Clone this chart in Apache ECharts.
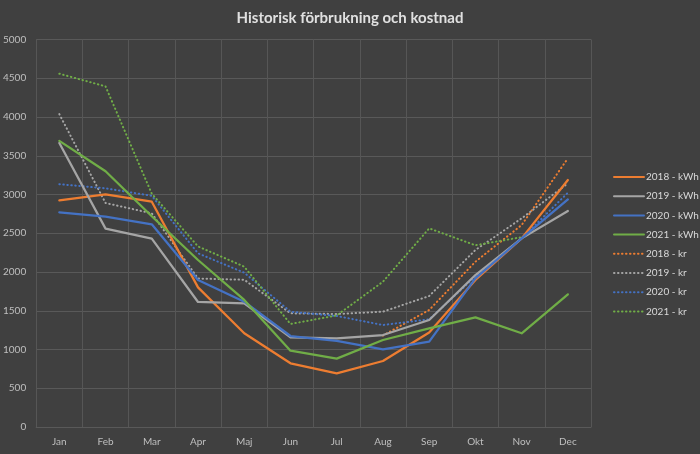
<!DOCTYPE html>
<html><head><meta charset="utf-8">
<script src="https://cdn.jsdelivr.net/npm/echarts@6/dist/echarts.min.js"></script>
<style>html,body{margin:0;padding:0;background:#404040}#c{width:700px;height:454px}</style>
</head><body><div id="c"></div>
<script>
const months = ['Jan','Feb','Mar','Apr','Maj','Jun','Jul','Aug','Sep','Okt','Nov','Dec'];
const kwh2018 = [2925, 3003, 2907, 1802, 1209, 822, 692, 852, 1220, 1897, 2434, 3187];
const kwh2019 = [3665, 2560, 2430, 1613, 1594, 1157, 1144, 1187, 1381, 1961, 2434, 2787];
const kwh2020 = [2770, 2714, 2615, 1897, 1617, 1174, 1110, 1002, 1101, 1918, 2434, 2937];
const kwh2021 = [3692, 3300, 2720, 2155, 1640, 985, 882, 1123, 1273, 1415, 1209, 1712];
const kr2018 = [null, null, null, null, null, null, null, 1180, 1510, 2133, 2606, 3467];
const kr2019 = [4037, 2890, 2757, 1916, 1900, 1467, 1458, 1488, 1690, 2284, 2692, 3144];
const kr2020 = [3133, 3080, 2983, 2241, 1991, 1488, 1432, 1316, 1390, 1940, 2434, 3023];
const kr2021 = [4559, 4395, 3010, 2330, 2069, 1329, 1440, 1875, 2563, 2345, 2450, null];
const yTicks = [0, 500, 1000, 1500, 2000, 2500, 3000, 3500, 4000, 4500, 5000];

const ORANGE = '#ED7D31', GRAY = '#A5A5A5', BLUE = '#4472C4', GREEN = '#70AD47';
function solid(name, data, color) {
  return { name, type: 'line', data, symbol: 'none', smooth: false,
    lineStyle: { color, width: 2.25, type: 'solid', cap: 'round', join: 'round' },
    itemStyle: { color }, z: 3 };
}
function dotted(name, data, color) {
  return { name, type: 'line', data, symbol: 'none', smooth: false,
    lineStyle: { color, width: 2, type: [0.5, 3.5], cap: 'round' },
    itemStyle: { color }, z: 2 };
}
const chart = echarts.init(document.getElementById('c'), null, { renderer: 'canvas' });
chart.setOption({
  backgroundColor: '#404040',
  animation: false,
  textStyle: { fontFamily: 'Lato, "Noto Sans", sans-serif' },
  title: { text: 'Historisk förbrukning och kostnad', left: 'center', top: 6,
    textStyle: { color: '#E0E0E0', fontSize: 15, fontWeight: 'bold', fontFamily: 'Lato, "Noto Sans", sans-serif' } },
  grid: { left: 36, right: 109, top: 39.5, bottom: 27, containLabel: false },
  legend: {
    orient: 'vertical', left: 608, top: 167, itemWidth: 30, itemHeight: 10, itemGap: 9.2,
    itemStyle: { opacity: 0 },
    textStyle: { color: '#D9D9D9', fontSize: 10, padding: [0, 0, 0, -3] },
    data: ['2018 - kWh','2019 - kWh','2020 - kWh','2021 - kWh','2018 - kr','2019 - kr','2020 - kr','2021 - kr']
  },
  xAxis: {
    type: 'category', data: months, boundaryGap: true,
    axisLine: { show: true, lineStyle: { color: '#595959' } },
    axisTick: { show: false },
    axisLabel: { color: '#BFBFBF', fontSize: 10, margin: 10 },
    splitLine: { show: true, lineStyle: { color: '#565656', width: 1 } }
  },
  yAxis: {
    type: 'value', min: yTicks[0], max: yTicks[yTicks.length - 1], interval: 500,
    axisLine: { show: false }, axisTick: { show: false },
    axisLabel: { color: '#BFBFBF', fontSize: 10, margin: 10, formatter: v => String(v) },
    splitLine: { lineStyle: { color: '#595959', width: 1 } }
  },
  series: [
    solid('2018 - kWh', kwh2018, ORANGE),
    solid('2019 - kWh', kwh2019, GRAY),
    solid('2020 - kWh', kwh2020, BLUE),
    solid('2021 - kWh', kwh2021, GREEN),
    dotted('2018 - kr', kr2018, ORANGE),
    dotted('2019 - kr', kr2019, GRAY),
    dotted('2020 - kr', kr2020, BLUE),
    dotted('2021 - kr', kr2021, GREEN)
  ]
});
</script></body></html>
